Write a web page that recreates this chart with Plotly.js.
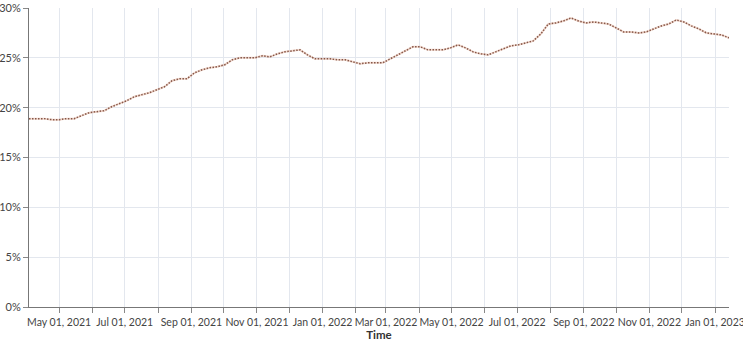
<!DOCTYPE html>
<html>
<head>
<meta charset="utf-8">
<script src="https://cdn.plot.ly/plotly-3.0.1.min.js"></script>
<style>html,body{margin:0;padding:0;background:#fff}#chart{width:743px;height:357px}</style>
</head>
<body>
<div id="chart"></div>
<script>
var dates = [
"2021-04-03","2021-04-10","2021-04-17","2021-04-24","2021-05-01","2021-05-08","2021-05-15","2021-05-22","2021-05-29",
"2021-06-05","2021-06-12","2021-06-19","2021-06-26","2021-07-03","2021-07-10","2021-07-17","2021-07-24","2021-07-31",
"2021-08-07","2021-08-14","2021-08-21","2021-08-28","2021-09-04","2021-09-11","2021-09-18","2021-09-25",
"2021-10-02","2021-10-09","2021-10-16","2021-10-23","2021-10-30","2021-11-06","2021-11-13","2021-11-20","2021-11-27",
"2021-12-04","2021-12-11","2021-12-18","2021-12-25","2022-01-01","2022-01-08","2022-01-15","2022-01-22","2022-01-29",
"2022-02-05","2022-02-12","2022-02-19","2022-02-26","2022-03-05","2022-03-12","2022-03-19","2022-03-26",
"2022-04-02","2022-04-09","2022-04-16","2022-04-23","2022-04-30","2022-05-07","2022-05-14","2022-05-21","2022-05-28",
"2022-06-04","2022-06-11","2022-06-18","2022-06-25","2022-07-02","2022-07-09","2022-07-16","2022-07-23","2022-07-30",
"2022-08-06","2022-08-13","2022-08-20","2022-08-27","2022-09-03","2022-09-10","2022-09-17","2022-09-24",
"2022-10-01","2022-10-08","2022-10-15","2022-10-22","2022-10-29","2022-11-05","2022-11-12","2022-11-19","2022-11-26",
"2022-12-03","2022-12-10","2022-12-17","2022-12-24","2022-12-31","2023-01-07","2023-01-14"
];
var share = [
18.9,18.9,18.9,18.8,18.8,18.9,18.9,19.2,19.5,
19.6,19.7,20.1,20.4,20.7,21.1,21.3,21.5,21.8,
22.1,22.7,22.9,22.9,23.5,23.8,24.0,24.1,
24.3,24.8,25.0,25.0,25.0,25.2,25.1,25.4,25.6,
25.7,25.8,25.3,24.9,24.9,24.9,24.8,24.8,24.6,
24.4,24.5,24.5,24.5,24.9,25.3,25.7,26.1,
26.1,25.8,25.8,25.8,26.0,26.3,26.0,25.6,25.4,
25.3,25.6,25.9,26.2,26.3,26.5,26.7,27.4,28.4,
28.5,28.7,29.0,28.7,28.5,28.6,28.5,28.4,
28.0,27.6,27.6,27.5,27.6,27.9,28.2,28.4,28.8,
28.6,28.2,27.9,27.5,27.4,27.3,27.0
];
var yTicks = [0,5,10,15,20,25,30];
var xTitle = "Time";

var font = "Lato, 'Noto Sans', sans-serif";
var traces = [
  {x: dates, y: share, type: "scatter", mode: "lines", showlegend: false, hoverinfo: "skip",
   line: {color: "rgba(232,185,165,0.55)", width: 2}},
  {x: dates, y: share, type: "scatter", mode: "lines", showlegend: false,
   line: {color: "#86584a", width: 1.5, dash: "1.5px,1.5px"}}
];
var layout = {
  width: 743, height: 357,
  margin: {l: 29, r: 14, t: 8, b: 50},
  paper_bgcolor: "#fff", plot_bgcolor: "#fff",
  font: {family: font, size: 11, color: "#444"},
  xaxis: {
    type: "date", automargin: false,
    range: [dates[0], dates[dates.length - 1]],
    tick0: "2021-05-01", dtick: "M2", tickformat: "%b %d, %Y", tickangle: 0,
    ticklabeloverflow: "allow",
    ticks: "outside", ticklen: 5, tickcolor: "#888",
    showgrid: true, gridcolor: "#e3e7ee", gridwidth: 1,
    minor: {dtick: "M1", tick0: "2021-05-01", showgrid: true, gridcolor: "#e3e7ee", ticks: "outside", ticklen: 5, tickcolor: "#888"},
    showline: true, linecolor: "#777", linewidth: 1,
    zeroline: false,
    tickfont: {family: font, size: 10.5, color: "#444"},
    title: {text: "<b>" + xTitle + "</b>", font: {family: font, size: 11.5, color: "#333"}, standoff: 4}
  },
  yaxis: {
    range: [0, 30], automargin: false,
    tickvals: yTicks, ticktext: yTicks.map(function(v){return v + "%";}),
    ticks: "outside", ticklen: 5, tickcolor: "#888",
    showgrid: true, gridcolor: "#e3e7ee",
    showline: true, linecolor: "#777", linewidth: 1,
    zeroline: false,
    tickfont: {family: font, size: 11, color: "#444"}
  }
};
Plotly.newPlot("chart", traces, layout, {displayModeBar: false, staticPlot: true});
</script>
</body>
</html>
